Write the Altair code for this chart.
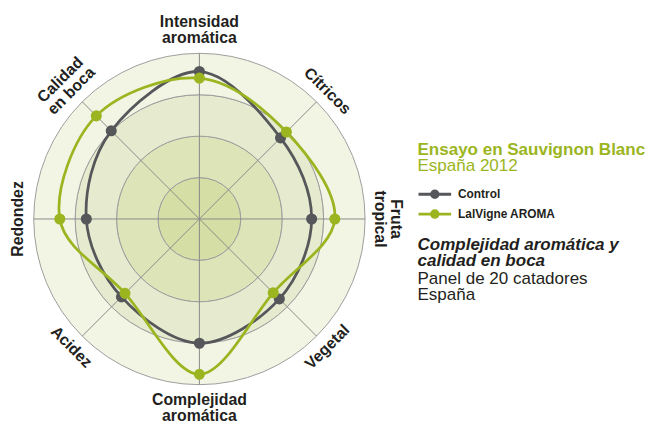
import math
import altair as alt
import pandas as pd

# ---------------- data ----------------
axes = ["Intensidad aromática", "Cítricos", "Fruta tropical", "Vegetal",
        "Complejidad aromática", "Acidez", "Redondez", "Calidad en boca"]
control = [3.56, 2.77, 2.71, 2.73, 3.00, 2.66, 2.73, 3.01]
lalvigne = [3.40, 2.97, 3.27, 2.52, 3.75, 2.54, 3.37, 3.52]
series_names = ["Control", "LalVigne AROMA"]
levels = [1, 2, 3, 4]
label_lines = [["Intensidad", "aromática"], ["Cítricos"], ["Fruta", "tropical"], ["Vegetal"],
               ["Complejidad", "aromática"], ["Acidez"], ["Redondez"], ["Calidad", "en boca"]]
title_text = "Ensayo en Sauvignon Blanc"
subtitle_text = "España 2012"
note_bold = ["Complejidad aromática y", "calidad en boca"]
note_plain = ["Panel de 20 catadores", "España"]

# ---------------- style ----------------
FONT = "Liberation Sans"
GREY = "#55575a"
GREEN = "#9bb521"
TEXT = "#231f20"
ring_colors = ["#d5dea5", "#dde5b8", "#e6ebcf", "#f2f5e4"]
SIZE = 335
R = SIZE / 2
MAXV = max(levels)
LAB_IN = 4.37
LAB_OUT = 4.75

n = len(axes)
rows = []
for s, vals in zip(series_names, [control, lalvigne]):
    for i, (a, v) in enumerate(zip(axes, vals)):
        rows.append({"series": s, "idx": i, "axis": a, "value": v})
df = pd.DataFrame(rows)

lab_rows = []
for i, lines_ in enumerate(label_lines):
    deg = 360 * i / n
    rot = deg - 180 if 90 < deg < 270 else deg
    rot = rot % 360
    up_out = not (90 < deg < 270)
    if len(lines_) == 1:
        rs = [LAB_IN]
    else:
        rs = [LAB_OUT, LAB_IN] if up_out else [LAB_IN, LAB_OUT]
    for t, r in zip(lines_, rs):
        lab_rows.append({"text": t, "idx": i, "r": r, "rot": rot})
lab_df = pd.DataFrame(lab_rows)

xs = alt.Scale(domain=[-MAXV, MAXV], nice=False, zero=False)
ys = alt.Scale(domain=[-MAXV, MAXV], nice=False, zero=False)
X = alt.X("x:Q", scale=xs, axis=None)
Y = alt.Y("y:Q", scale=ys, axis=None)
ang = f"datum.idx*2*PI/{n}"

# legend symbol: a line with a dot; path units scaled by sqrt(size)/2 = 5.5 px
sym_path = "M-3,0L3,0M-0.62,0A0.62,0.62,0,1,1,0.62,0A0.62,0.62,0,1,1,-0.62,0Z"
leg = alt.Legend(orient="none", legendX=398.5, legendY=135.5, title=None,
                 symbolType=sym_path, symbolSize=121, symbolStrokeWidth=2.8,
                 labelFont=FONT, labelFontSize=12, labelFontWeight="bold",
                 labelColor=TEXT, rowPadding=0, labelOffset=16.5)
ser_scale = alt.Scale(domain=series_names, range=[GREY, GREEN])

rings = alt.Chart(pd.DataFrame({"outer": levels, "inner": [l - 1 for l in levels]})).mark_arc(
    theta=0, theta2=2 * math.pi, stroke="#9d9d9d", strokeWidth=1
).encode(
    radius=alt.Radius("outer:Q", scale=alt.Scale(type="linear", domain=[0, MAXV], range=[0, R], zero=True)),
    radius2="inner:Q",
    color=alt.Color("outer:O", scale=alt.Scale(domain=levels, range=ring_colors), legend=None),
)

spokes = alt.Chart(pd.DataFrame({"idx": list(range(n))})).transform_calculate(
    x="0", y="0", x2=f"{MAXV}*sin({ang})", y2=f"{MAXV}*cos({ang})"
).mark_rule(color="#8a8a8a", strokeWidth=1).encode(x=X, y=Y, x2="x2:Q", y2="y2:Q")

xy_calc = dict(x=f"datum.value*sin({ang})", y=f"datum.value*cos({ang})")

lines = alt.Chart(df).transform_calculate(**xy_calc).mark_line(
    interpolate="cardinal-closed", strokeWidth=2.8
).encode(
    x=X, y=Y,
    stroke=alt.Stroke("series:N", scale=ser_scale, legend=leg),
    order=alt.Order("idx:Q"),
)

points = alt.Chart(df).transform_calculate(**xy_calc).mark_point(
    filled=True, opacity=1, size=85, shape="circle"
).encode(
    x=X, y=Y,
    fill=alt.Fill("series:N", scale=ser_scale, legend=leg),
    stroke=alt.Stroke("series:N", scale=ser_scale, legend=leg),
)

labels = alt.Chart(lab_df).transform_calculate(
    x=f"datum.r*sin({ang})", y=f"datum.r*cos({ang})"
).mark_text(
    font=FONT, fontSize=16, fontWeight="bold", color=TEXT, align="center", baseline="middle"
).encode(x=X, y=Y, text="text:N", angle=alt.Angle("rot:Q", scale=None))

TX = 388
notes = []
def note(txt, yb, **kw):
    return alt.Chart(pd.DataFrame({"t": [txt]})).mark_text(
        font=FONT, fontSize=17.2, align="left", baseline="alphabetic", **kw
    ).encode(text="t:N", x=alt.value(TX), y=alt.value(yb))

notes.append(note(title_text, 102.5, fontWeight="bold", color=GREEN))
notes.append(note(subtitle_text, 119.2, color=GREEN))
notes.append(note(note_bold[0], 198.5, fontWeight="bold", fontStyle="italic", color=TEXT))
notes.append(note(note_bold[1], 215.2, fontWeight="bold", fontStyle="italic", color=TEXT))
notes.append(note(note_plain[0], 233.5, color=TEXT))
notes.append(note(note_plain[1], 249.2, color=TEXT))

chart = alt.layer(rings, spokes, lines, points, labels, *notes).properties(
    width=SIZE, height=SIZE,
    padding={"left": 26, "top": 43.5, "right": 283, "bottom": 40},
    autosize=alt.AutoSizeParams(type="none"),
).configure_view(stroke=None)

chart.save("out.html", embed_options={"renderer": "svg", "actions": False})
